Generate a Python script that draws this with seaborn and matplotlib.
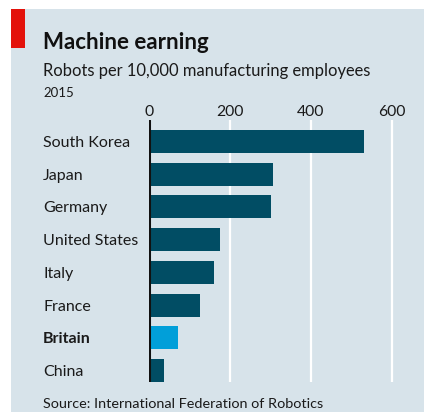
import matplotlib
matplotlib.use("Agg")
import matplotlib.pyplot as plt
import seaborn as sns
import pandas as pd
from matplotlib.patches import Rectangle

countries = ["South Korea", "Japan", "Germany", "United States", "Italy", "France", "Britain", "China"]
values = [531, 305, 301, 176, 160, 127, 71, 36]
highlight = "Britain"
xticks = [0, 200, 400, 600]

title = "Machine earning"
subtitle = "Robots per 10,000 manufacturing employees"
year = "2015"
source = "Source: International Federation of Robotics"

BG = "#d7e3ea"
DARK = "#014d64"
LIGHT = "#019fd9"
RED = "#e3120b"

sns.set_theme(style="white")
plt.rcParams["font.family"] = ["Lato", "DejaVu Sans"]

W, H = 424, 412
fig = plt.figure(figsize=(W / 100, H / 100), dpi=100, facecolor="white")

def fx(px):
    return px / W

def fy(py):
    return 1 - py / H

# panel background and red tag
fig.patches.append(Rectangle((fx(11), 0), 1 - fx(11), fy(9), transform=fig.transFigure,
                             facecolor=BG, edgecolor="none", zorder=-2))
fig.patches.append(Rectangle((fx(11), fy(48)), fx(25) - fx(11), fy(9) - fy(48),
                             transform=fig.transFigure, facecolor=RED, edgecolor="none", zorder=-1))

xmax = 670
ax_left, ax_top, ax_bottom = 149, 120, 382
ax_w = xmax * 0.405
ax = fig.add_axes([fx(ax_left), fy(ax_bottom), ax_w / W, (ax_bottom - ax_top) / H])
ax.set_facecolor("none")
ax.set_zorder(2)

df = pd.DataFrame({"country": countries, "value": values})
palette = {c: (LIGHT if c == highlight else DARK) for c in countries}
sns.barplot(data=df, x="value", y="country", hue="country", palette=palette,
            order=countries, legend=False, width=0.7, saturation=1, ax=ax, zorder=3,
            linewidth=0, edgecolor="none")

ax.set_xlim(0, xmax)
ax.set_ylim(7.35, -0.65)
ax.set_xticks(xticks)
ax.set_xticklabels([str(t) for t in xticks])
ax.xaxis.tick_top()
ax.tick_params(axis="x", length=0, pad=1.0, labelsize=11.3, labelcolor="#1a1a1a")
ax.tick_params(axis="y", length=0, pad=76.3, labelsize=11.5, labelcolor="#1a1a1a")
for lbl in ax.get_yticklabels():
    lbl.set_horizontalalignment("left")
    if lbl.get_text() == highlight:
        lbl.set_fontweight("bold")
ax.set_xlabel("")
ax.set_ylabel("")
for s in ax.spines.values():
    s.set_visible(False)
for t in xticks:
    if t == 0:
        ax.axvline(t, color="#111111", lw=2.2, zorder=5)
    else:
        ax.axvline(t, color="white", lw=1.6, zorder=1)

fig.text(fx(43), fy(49), title, fontsize=16, fontweight="bold", color="#111111", va="baseline", ha="left")
fig.text(fx(43), fy(76), subtitle, fontsize=11.9, color="#1a1a1a", va="baseline", ha="left")
fig.text(fx(43), fy(97), year, fontsize=9.5, color="#1a1a1a", va="baseline", ha="left")
fig.text(fx(43), fy(408), source, fontsize=10.4, color="#1a1a1a", va="baseline", ha="left")

fig.savefig("out.png", dpi=100, facecolor="white")
